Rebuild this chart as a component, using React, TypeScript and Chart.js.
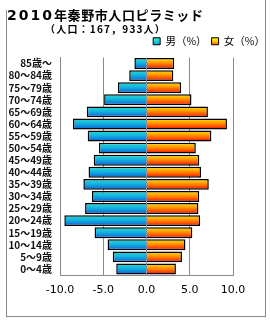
import React, { useEffect, useRef } from "react";
import { Chart, registerables } from "chart.js";

Chart.register(...registerables);

const ageGroups = [
  "85歳〜", "80〜84歳", "75〜79歳", "70〜74歳", "65〜69歳", "60〜64歳",
  "55〜59歳", "50〜54歳", "45〜49歳", "40〜44歳", "35〜39歳", "30〜34歳",
  "25〜29歳", "20〜24歳", "15〜19歳", "10〜14歳", "5〜9歳", "0〜4歳",
];
const malePct = [1.4, 2.0, 3.3, 4.9, 6.9, 8.5, 6.8, 5.5, 6.1, 6.7, 7.3, 6.3, 7.1, 9.5, 6.0, 4.5, 3.9, 3.5];
const femalePct = [3.2, 3.1, 4.0, 5.2, 7.1, 9.3, 7.5, 5.7, 6.1, 6.3, 7.2, 6.1, 6.0, 6.2, 5.3, 4.5, 4.1, 3.4];
const seriesNames = ["男（%）", "女（%）"];
const titleText = "2010年秦野市人口ピラミッド";
const subtitleText = "（人口：167，933人）";
const xMin = -10;
const xMax = 10;
const xStep = 5;

const maleStops: [number, string][] = [[0, "#28dcd0"], [0.45, "#12b4e0"], [1, "#0c5cd4"]];
const femaleStops: [number, string][] = [[0, "#ffe400"], [0.4, "#ff9a00"], [0.75, "#ff4a00"], [1, "#d80000"]];
const BAR_PCT = 0.9;

function makeGrad(ctx: CanvasRenderingContext2D, y0: number, y1: number, stops: [number, string][]) {
  const g = ctx.createLinearGradient(0, y0, 0, y1);
  stops.forEach(([o, c]) => g.addColorStop(o, c));
  return g;
}

function barFill(stops: [number, string][]) {
  return (c: any) => {
    const chart = c.chart;
    const area = chart.chartArea;
    const ys = chart.scales && chart.scales.y;
    if (!area || !ys || c.dataIndex === undefined) return stops[1][1];
    const y = ys.getPixelForValue(c.dataIndex);
    const h = (area.bottom - area.top) / ageGroups.length * BAR_PCT;
    return makeGrad(chart.ctx, y - h / 2, y + h / 2, stops);
  };
}

export default function App() {
  const ref = useRef<HTMLCanvasElement | null>(null);
  useEffect(() => {
    if (!ref.current) return;
    const chart = new Chart(ref.current, {
      type: "bar",
      data: {
        labels: ageGroups,
        datasets: [
          {
            label: seriesNames[0],
            data: malePct.map((v) => -v),
            backgroundColor: barFill(maleStops) as any,
            borderColor: "#000",
            borderWidth: 1.5,
            barPercentage: BAR_PCT,
            categoryPercentage: 1,
          },
          {
            label: seriesNames[1],
            data: femalePct,
            backgroundColor: barFill(femaleStops) as any,
            borderColor: "#000",
            borderWidth: 1.5,
            barPercentage: BAR_PCT,
            categoryPercentage: 1,
          },
        ],
      },
      options: {
        indexAxis: "y",
        responsive: false,
        animation: false,
        layout: { padding: { top: 31, left: 0, right: 0, bottom: 0 } },
        scales: {
          x: {
            type: "linear",
            stacked: true,
            min: xMin,
            max: xMax,
            position: "bottom",
            ticks: {
              stepSize: xStep,
              padding: 9,
              color: "#000",
              font: { family: "DejaVu Sans", size: 11 },
              callback: (v: any) => Number(v).toFixed(1),
            },
            grid: { color: "#8a8a8a", lineWidth: 1, drawTicks: false },
            border: { display: true, color: "#8a8a8a", width: 1 },
            afterFit: (s: any) => { s.height = 45; },
          },
          x2: {
            type: "linear",
            axis: "x",
            position: "top",
            min: xMin,
            max: xMax,
            ticks: { display: false, stepSize: xStep },
            grid: {
              drawTicks: false,
              z: 1,
              color: (c: any) => (c.tick && c.tick.value === 0 ? "#8494a8" : "rgba(0,0,0,0)"),
            },
            border: { display: false },
            afterFit: (s: any) => { s.height = 1; },
          },
          y: {
            type: "category",
            stacked: true,
            ticks: {
              padding: 8,
              color: "#101010",
              font: { family: "Noto Sans CJK JP", size: 10, weight: "bold" },
              autoSkip: false,
            },
            grid: { display: false, drawTicks: false },
            border: { display: true, color: "#8a8a8a", width: 1 },
            afterFit: (s: any) => { s.width = 60; },
          },
          y2: {
            type: "linear",
            axis: "y",
            position: "right",
            min: 0,
            max: 1,
            ticks: { display: false },
            grid: { display: false, drawTicks: false },
            border: { display: false },
            afterFit: (s: any) => { s.width = 37; },
          },
        },
        plugins: {
          tooltip: { enabled: false },
          title: { display: false },
          legend: {
            display: true,
            position: "top",
            align: "end",
            labels: {
              boxWidth: 7,
              boxHeight: 7,
              padding: 5,
              color: "#000",
              font: { family: "Noto Sans CJK JP", size: 10.5 },
              generateLabels: (ch: any) => {
                const c = ch.ctx as CanvasRenderingContext2D;
                return [
                  { text: seriesNames[0], fillStyle: makeGrad(c, 40, 47, maleStops), strokeStyle: "#000", lineWidth: 1, hidden: false, datasetIndex: 0, fontColor: "#000" },
                  { text: seriesNames[1], fillStyle: makeGrad(c, 40, 47, femaleStops), strokeStyle: "#000", lineWidth: 1, hidden: false, datasetIndex: 1, fontColor: "#000" },
                ];
              },
            },
          },
        },
      } as any,
    });
    return () => chart.destroy();
  }, []);

  return (
    <div style={{ position: "fixed", left: 0, top: 0, width: 270, height: 320, background: "#fff", overflow: "hidden" }}>
      <canvas ref={ref} width={270} height={320} style={{ position: "absolute", left: 0, top: 0, width: 270, height: 320 }} />
      <div style={{ position: "absolute", left: 6, top: 10, width: 0, height: 306, borderLeft: "1px solid #8a8a8a" }} />
      <div style={{ position: "absolute", left: 265, top: 0, width: 0, height: 316, borderLeft: "1px solid #8a8a8a" }} />
      <div style={{ position: "absolute", left: 6, top: 316, width: 260, height: 0, borderTop: "1px solid #8a8a8a" }} />
      <div style={{ position: "absolute", left: 7, top: 6, whiteSpace: "nowrap", lineHeight: "18px", fontFamily: "'Noto Sans CJK JP'", fontWeight: 700, fontSize: 13, letterSpacing: "0.6px", color: "#000" }}>
        <span style={{ fontFamily: "'DejaVu Sans'", fontSize: 14, letterSpacing: "2px" }}>{titleText.slice(0, 4)}</span>
        {titleText.slice(4)}
      </div>
      <div style={{ position: "absolute", left: 45, top: 22, whiteSpace: "nowrap", lineHeight: "14px", fontFamily: "'Noto Sans CJK JP'", fontWeight: 700, fontSize: 10, letterSpacing: "1.2px", color: "#000" }}>
        {subtitleText}
      </div>
    </div>
  );
}
